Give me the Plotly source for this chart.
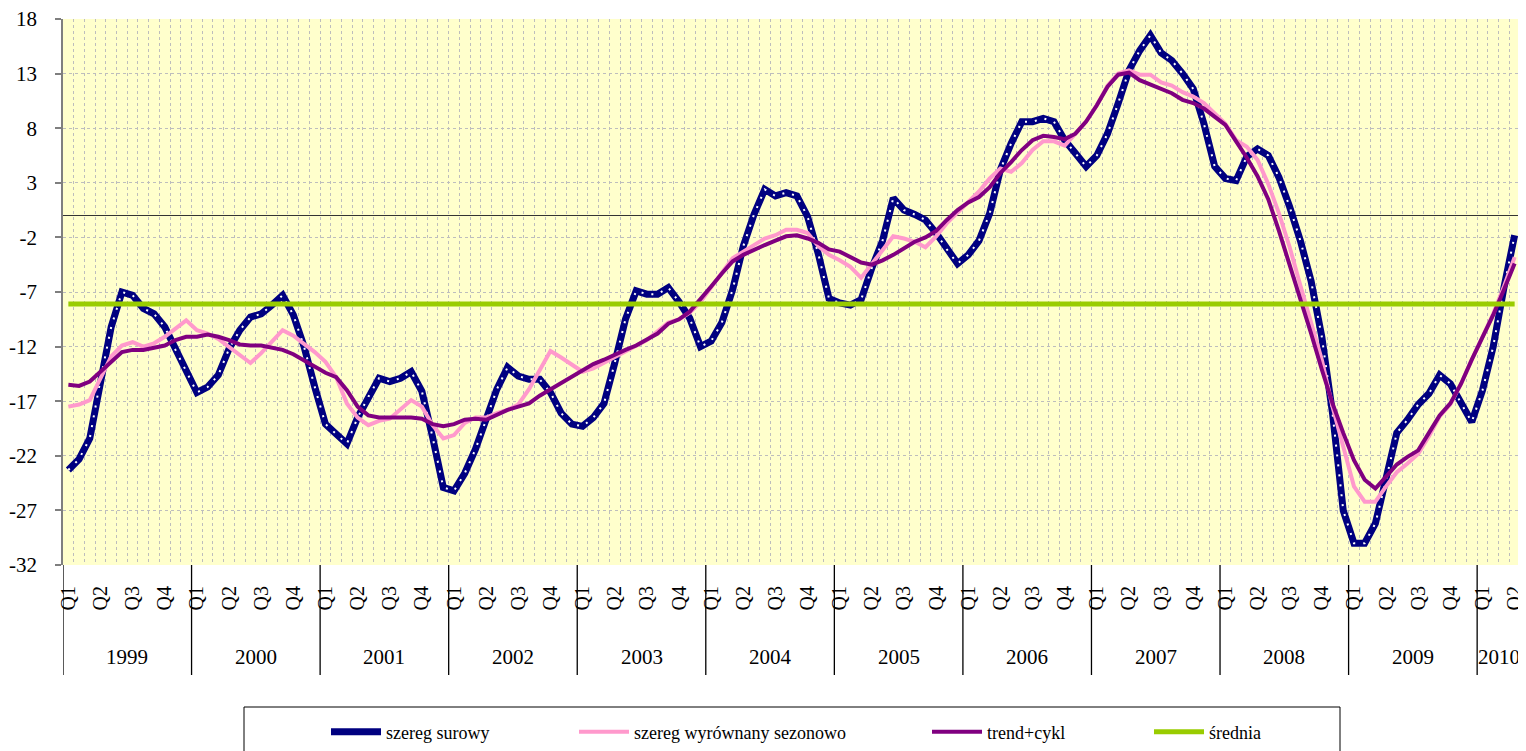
import plotly.graph_objects as go

# ---- data (monthly, Jan 1999 - Apr 2010) ----
years = ["1999", "2000", "2001", "2002", "2003", "2004", "2005",
         "2006", "2007", "2008", "2009", "2010"]
months_in_year = [12, 12, 12, 12, 12, 12, 12, 12, 12, 12, 12, 4]
quarter_labels = ["Q1", "Q2", "Q3", "Q4"]

szereg_surowy = [
    -23.3, -22.3, -20.4, -15.0, -10.2, -7.0, -7.3, -8.5, -9.0, -10.2, -12.3, -14.3,
    -16.2, -15.7, -14.6, -12.2, -10.5, -9.3, -9.0, -8.2, -7.3, -9.1, -12.0, -15.7,
    -19.1, -20.0, -20.9, -18.5, -16.6, -14.9, -15.2, -14.9, -14.3, -16.1, -20.3, -24.9,
    -25.2, -23.6, -21.4, -18.7, -15.9, -13.9, -14.7, -15.0, -15.0, -16.2, -18.1, -19.1,
    -19.3, -18.5, -17.2, -13.5, -9.5, -6.9, -7.2, -7.2, -6.6, -7.9, -9.4, -12.0,
    -11.5, -9.8, -6.8, -2.8, 0.1, 2.4, 1.8, 2.1, 1.8, -0.1, -3.5, -7.6,
    -8.0, -8.2, -7.7, -4.8, -2.3, 1.6, 0.5, 0.1, -0.4, -1.6, -3.1, -4.4,
    -3.6, -2.3, 0.2, 4.2, 6.6, 8.6, 8.6, 8.9, 8.6, 6.9, 5.7, 4.5,
    5.5, 7.5, 10.3, 13.3, 15.1, 16.5, 14.9, 14.2, 13.0, 11.6, 8.4, 4.5,
    3.4, 3.2, 5.4, 6.1, 5.5, 3.5, 0.8, -2.3, -6.0, -11.1, -18.1, -27.0,
    -30.0, -30.0, -28.2, -24.2, -19.9, -18.7, -17.3, -16.3, -14.6, -15.4, -17.2, -18.9,
    -16.0, -12.0, -6.6, -1.8,
]

szereg_wyrownany = [
    -17.5, -17.3, -16.9, -14.8, -12.9, -11.9, -11.6, -12.0, -11.7, -11.1, -10.3, -9.6,
    -10.5, -10.8, -11.3, -12.0, -12.8, -13.5, -12.6, -11.6, -10.5, -11.0, -11.7, -12.5,
    -13.4, -14.8, -17.2, -18.5, -19.2, -18.8, -18.6, -17.8, -16.9, -17.5, -19.2, -20.4,
    -20.1, -19.0, -18.5, -18.5, -18.1, -17.8, -17.3, -15.9, -14.1, -12.4, -13.0, -13.6,
    -14.3, -14.0, -13.5, -12.9, -12.4, -12.0, -11.4, -10.6, -9.8, -9.5, -8.9, -7.9,
    -6.6, -5.3, -3.9, -3.3, -2.7, -2.1, -1.8, -1.3, -1.3, -1.6, -2.8, -3.6,
    -4.1, -4.7, -5.7, -4.4, -3.2, -1.9, -2.1, -2.4, -2.9, -1.9, -0.7, 0.3,
    1.3, 2.2, 3.4, 4.3, 4.0, 4.8, 6.0, 6.8, 6.8, 6.4, 7.5, 8.6,
    10.1, 11.9, 13.0, 13.3, 12.9, 12.9, 12.2, 11.9, 11.3, 10.9, 10.3, 9.3,
    8.4, 6.9, 6.3, 5.1, 2.9, 0.2, -2.9, -6.4, -9.9, -13.2, -17.5, -21.2,
    -24.8, -26.2, -26.2, -24.8, -23.5, -22.7, -21.8, -20.2, -18.4, -17.3, -15.4, -13.2,
    -11.1, -9.0, -6.5, -3.8,
]

trend_cykl = [
    -15.5, -15.6, -15.2, -14.3, -13.3, -12.5, -12.3, -12.3, -12.1, -11.9, -11.4, -11.1,
    -11.1, -10.9, -11.1, -11.4, -11.8, -11.9, -11.9, -12.1, -12.3, -12.7, -13.3, -13.9,
    -14.4, -14.8, -16.0, -17.5, -18.3, -18.5, -18.5, -18.5, -18.5, -18.6, -19.1, -19.3,
    -19.1, -18.7, -18.6, -18.7, -18.2, -17.8, -17.5, -17.2, -16.5, -15.9, -15.4, -14.7,
    -14.1, -13.6, -13.2, -12.7, -12.3, -11.9, -11.4, -10.8, -9.9, -9.5, -8.8, -7.7,
    -6.5, -5.3, -4.2, -3.6, -3.1, -2.7, -2.3, -1.9, -1.8, -2.1, -2.5, -3.1,
    -3.3, -3.8, -4.3, -4.5, -4.1, -3.6, -3.0, -2.4, -2.0, -1.4, -0.4, 0.5,
    1.2, 1.7, 2.6, 3.9, 4.9, 6.0, 6.9, 7.3, 7.2, 7.0, 7.5, 8.6,
    10.1, 11.8, 12.9, 13.1, 12.4, 12.0, 11.6, 11.2, 10.6, 10.3, 9.8, 9.0,
    8.3, 6.8, 5.3, 3.6, 1.5, -1.4, -4.5, -7.4, -10.8, -14.1, -17.2, -19.9,
    -22.4, -24.2, -25.0, -23.9, -22.8, -22.1, -21.5, -19.9, -18.3, -17.2, -15.4, -13.2,
    -11.2, -9.1, -6.8, -4.4,
]

srednia_value = -8.1
srednia = [srednia_value] * len(szereg_surowy)

y_ticks = [18, 13, 8, 3, -2, -7, -12, -17, -22, -27, -32]

# ---- derived positions ----
n = len(szereg_surowy)
x = list(range(n))
q_pos, q_text = [], []
year_start = []
start = 0
for y_lbl, cnt in zip(years, months_in_year):
    year_start.append(start)
    for m in range(0, cnt, 3):
        q_pos.append(start + m)
        q_text.append(quarter_labels[m // 3])
    start += cnt

FONT = "Liberation Serif"

fig = go.Figure()
fig.add_trace(go.Scatter(x=x, y=szereg_surowy, mode="lines", name="szereg surowy",
                         line=dict(color="#000080", width=7), legend="legend"))
fig.add_trace(go.Scatter(x=x, y=szereg_surowy, mode="lines", showlegend=False,
                         hoverinfo="skip",
                         line=dict(color="#FFFFFF", width=2, dash="2px,8px")))
fig.add_trace(go.Scatter(x=x, y=szereg_wyrownany, mode="lines",
                         name="szereg wyrównany sezonowo",
                         line=dict(color="#FF99CC", width=4), legend="legend2"))
fig.add_trace(go.Scatter(x=x, y=trend_cykl, mode="lines", name="trend+cykl",
                         line=dict(color="#800080", width=4), legend="legend3"))
fig.add_trace(go.Scatter(x=x, y=srednia, mode="lines", name="średnia",
                         line=dict(color="#99CC00", width=5), legend="legend4"))

# page has an 8px body margin: figure pixel = page pixel - 8
OFF = 8
W, H = 1518, 743
L, R, T, B = 55, 6, 11, 186
pw, ph = W - L - R, H - T - B


def px_x(p):
    return (p - OFF - L) / pw


def px_y(p):
    return (H - B - (p - OFF)) / ph


shapes = []
bounds = year_start + [n]
for b in bounds:
    shapes.append(dict(type="line", xref="x", yref="paper", x0=b - 0.5, x1=b - 0.5,
                       y0=0, y1=px_y(675), line=dict(color="#000000", width=1.3)))
shapes.append(dict(type="rect", xref="paper", yref="paper",
                   x0=px_x(244), x1=px_x(1340), y0=px_y(707), y1=px_y(780),
                   line=dict(color="#000000", width=1)))

annotations = []
for y_lbl, s, cnt in zip(years, year_start, months_in_year):
    annotations.append(dict(x=s + cnt / 2 - 0.5, y=px_y(657), xref="x", yref="paper",
                            text=y_lbl, showarrow=False, xanchor="center",
                            yanchor="middle", font=dict(family=FONT, size=21,
                                                        color="#000000")))

leg_common = dict(orientation="h", xanchor="left", yanchor="middle",
                  bgcolor="rgba(0,0,0,0)", borderwidth=0, itemwidth=50,
                  font=dict(family=FONT, size=18, color="#000000"),
                  y=px_y(732))

fig.update_layout(
    width=W, height=H,
    margin=dict(l=L, r=R, t=T, b=B, pad=0, autoexpand=False),
    paper_bgcolor="#FFFFFF",
    plot_bgcolor="#FFFFCC",
    font=dict(family=FONT, size=20, color="#000000"),
    showlegend=True,
    legend=dict(leg_common, x=px_x(326)),
    legend2=dict(leg_common, x=px_x(574)),
    legend3=dict(leg_common, x=px_x(927)),
    legend4=dict(leg_common, x=px_x(1149)),
    shapes=shapes,
    annotations=annotations,
    xaxis=dict(
        range=[-0.5, n - 0.5], automargin=False,
        tickmode="array", tickvals=q_pos, ticktext=q_text,
        tickangle=-90, ticks="", showgrid=False, zeroline=False,
        showline=False, ticklabelstandoff=16, ticklabeloverflow="allow",
        tickfont=dict(family=FONT, size=20, color="#000000"),
        minor=dict(tickmode="linear", tick0=-0.5, dtick=1, showgrid=True,
                   gridcolor="#BDBDBD", griddash="dot", gridwidth=1, ticks=""),
    ),
    yaxis=dict(
        range=[-32, 18], automargin=False,
        tickmode="array", tickvals=y_ticks,
        ticktext=[str(v) for v in y_ticks],
        showgrid=True, gridcolor="#BDBDBD", griddash="dot", gridwidth=1,
        zeroline=True, zerolinecolor="#333333", zerolinewidth=1,
        showline=True, linecolor="#7F7F7F", linewidth=1.5,
        ticks="outside", ticklen=6, tickcolor="#7F7F7F", tickwidth=1.5,
        ticklabelstandoff=14, ticklabeloverflow="allow",
        tickfont=dict(family=FONT, size=21, color="#000000"),
    ),
)

fig.write_html("out.html")
